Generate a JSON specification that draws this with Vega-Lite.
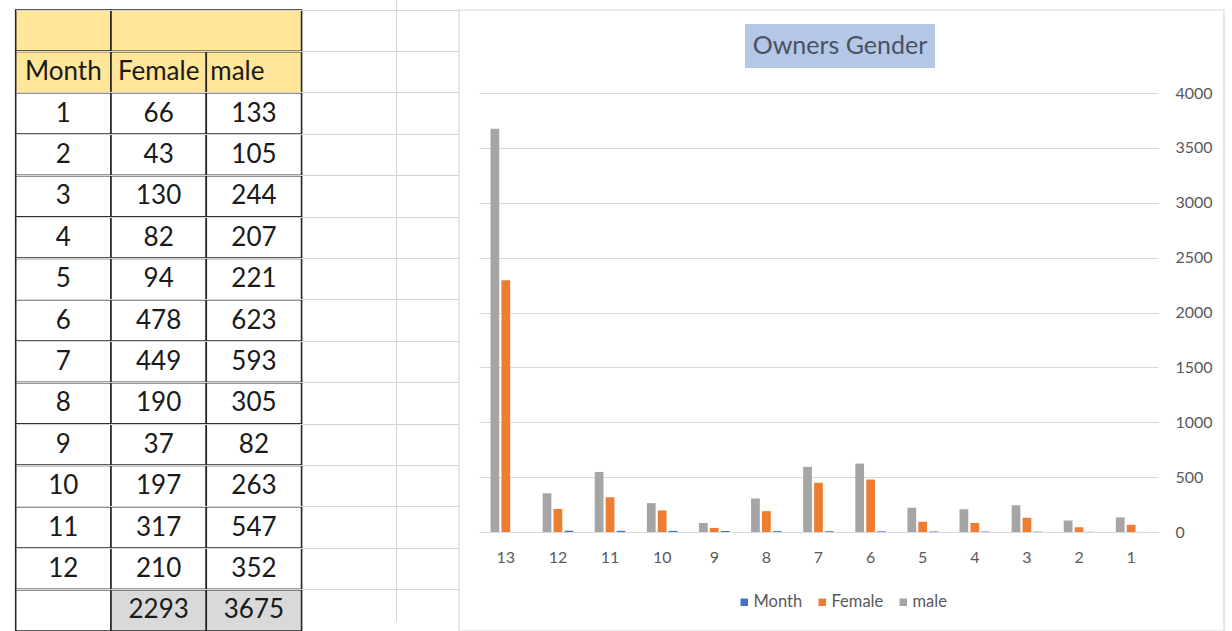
{
  "$schema": "https://vega.github.io/schema/vega-lite/v6.json",
  "padding": 0,
  "spacing": 0,
  "bounds": "flush",
  "background": "white",
  "config": {"view": {"stroke": null}, "font": "Lato"},
  "datasets": {
    "cells": [
      {"row": "h0", "col": "Month", "kind": "header", "text": ""},
      {"row": "h0", "col": "Female", "col2": "male", "kind": "header", "text": ""},
      {"row": "h1", "col": "Month", "kind": "header", "text": "Month"},
      {"row": "h1", "col": "Female", "kind": "header", "text": "Female"},
      {"row": "h1", "col": "male", "kind": "header", "text": "male"},
      {"row": "1", "col": "Month", "kind": "body", "text": "1"},
      {"row": "1", "col": "Female", "kind": "body", "text": "66"},
      {"row": "1", "col": "male", "kind": "body", "text": "133"},
      {"row": "2", "col": "Month", "kind": "body", "text": "2"},
      {"row": "2", "col": "Female", "kind": "body", "text": "43"},
      {"row": "2", "col": "male", "kind": "body", "text": "105"},
      {"row": "3", "col": "Month", "kind": "body", "text": "3"},
      {"row": "3", "col": "Female", "kind": "body", "text": "130"},
      {"row": "3", "col": "male", "kind": "body", "text": "244"},
      {"row": "4", "col": "Month", "kind": "body", "text": "4"},
      {"row": "4", "col": "Female", "kind": "body", "text": "82"},
      {"row": "4", "col": "male", "kind": "body", "text": "207"},
      {"row": "5", "col": "Month", "kind": "body", "text": "5"},
      {"row": "5", "col": "Female", "kind": "body", "text": "94"},
      {"row": "5", "col": "male", "kind": "body", "text": "221"},
      {"row": "6", "col": "Month", "kind": "body", "text": "6"},
      {"row": "6", "col": "Female", "kind": "body", "text": "478"},
      {"row": "6", "col": "male", "kind": "body", "text": "623"},
      {"row": "7", "col": "Month", "kind": "body", "text": "7"},
      {"row": "7", "col": "Female", "kind": "body", "text": "449"},
      {"row": "7", "col": "male", "kind": "body", "text": "593"},
      {"row": "8", "col": "Month", "kind": "body", "text": "8"},
      {"row": "8", "col": "Female", "kind": "body", "text": "190"},
      {"row": "8", "col": "male", "kind": "body", "text": "305"},
      {"row": "9", "col": "Month", "kind": "body", "text": "9"},
      {"row": "9", "col": "Female", "kind": "body", "text": "37"},
      {"row": "9", "col": "male", "kind": "body", "text": "82"},
      {"row": "10", "col": "Month", "kind": "body", "text": "10"},
      {"row": "10", "col": "Female", "kind": "body", "text": "197"},
      {"row": "10", "col": "male", "kind": "body", "text": "263"},
      {"row": "11", "col": "Month", "kind": "body", "text": "11"},
      {"row": "11", "col": "Female", "kind": "body", "text": "317"},
      {"row": "11", "col": "male", "kind": "body", "text": "547"},
      {"row": "12", "col": "Month", "kind": "body", "text": "12"},
      {"row": "12", "col": "Female", "kind": "body", "text": "210"},
      {"row": "12", "col": "male", "kind": "body", "text": "352"},
      {"row": "T", "col": "Month", "kind": "body", "text": ""},
      {"row": "T", "col": "Female", "kind": "total", "text": "2293"},
      {"row": "T", "col": "male", "kind": "total", "text": "3675"}
    ],
    "bars": [
      {"cat": "1", "series": "male", "value": 133}, {"cat": "1", "series": "Female", "value": 66}, {"cat": "1", "series": "Month", "value": 1},
      {"cat": "2", "series": "male", "value": 105}, {"cat": "2", "series": "Female", "value": 43}, {"cat": "2", "series": "Month", "value": 2},
      {"cat": "3", "series": "male", "value": 244}, {"cat": "3", "series": "Female", "value": 130}, {"cat": "3", "series": "Month", "value": 3},
      {"cat": "4", "series": "male", "value": 207}, {"cat": "4", "series": "Female", "value": 82}, {"cat": "4", "series": "Month", "value": 4},
      {"cat": "5", "series": "male", "value": 221}, {"cat": "5", "series": "Female", "value": 94}, {"cat": "5", "series": "Month", "value": 5},
      {"cat": "6", "series": "male", "value": 623}, {"cat": "6", "series": "Female", "value": 478}, {"cat": "6", "series": "Month", "value": 6},
      {"cat": "7", "series": "male", "value": 593}, {"cat": "7", "series": "Female", "value": 449}, {"cat": "7", "series": "Month", "value": 7},
      {"cat": "8", "series": "male", "value": 305}, {"cat": "8", "series": "Female", "value": 190}, {"cat": "8", "series": "Month", "value": 8},
      {"cat": "9", "series": "male", "value": 82}, {"cat": "9", "series": "Female", "value": 37}, {"cat": "9", "series": "Month", "value": 9},
      {"cat": "10", "series": "male", "value": 263}, {"cat": "10", "series": "Female", "value": 197}, {"cat": "10", "series": "Month", "value": 10},
      {"cat": "11", "series": "male", "value": 547}, {"cat": "11", "series": "Female", "value": 317}, {"cat": "11", "series": "Month", "value": 11},
      {"cat": "12", "series": "male", "value": 352}, {"cat": "12", "series": "Female", "value": 210}, {"cat": "12", "series": "Month", "value": 12},
      {"cat": "13", "series": "male", "value": 3675}, {"cat": "13", "series": "Female", "value": 2293}
    ],
    "chart": [{"part": "Owners Gender"}]
  },
  "hconcat": [
    {
      "width": 459,
      "height": 631,
      "data": {"name": "cells"},
      "encoding": {
        "x": {"field": "col", "type": "nominal",
          "scale": {"domain": ["Month", "Female", "male", "E"], "range": [15.7, 459], "paddingInner": 0, "paddingOuter": 0.326, "align": 0},
          "axis": {"orient": "bottom", "grid": true, "bandPosition": 1, "values": ["E"], "labels": false, "ticks": false, "domain": false, "title": null, "gridColor": "#d4d4d4", "gridWidth": 1}},
        "y": {"field": "row", "type": "nominal",
          "scale": {"domain": ["h0", "h1", "1", "2", "3", "4", "5", "6", "7", "8", "9", "10", "11", "12", "T"], "range": [10, 631], "paddingInner": 0, "paddingOuter": -0.0486, "align": 0},
          "axis": {"orient": "left", "grid": true, "bandPosition": 0, "labels": false, "ticks": false, "domain": false, "title": null, "gridColor": "#d4d4d4", "gridWidth": 1}}
      },
      "layer": [
        {
          "transform": [{"filter": "!datum.col2"}],
          "mark": {"type": "rect", "stroke": "#262626", "strokeWidth": 1.6, "clip": true},
          "encoding": {
            "fill": {"field": "kind", "type": "nominal", "scale": {"domain": ["header", "body", "total"], "range": ["#ffe699", "#ffffff", "#d9d9d9"]}, "legend": null}
          }
        },
        {
          "transform": [{"filter": "datum.col2"}],
          "mark": {"type": "rect", "stroke": "#262626", "strokeWidth": 1.6, "clip": true},
          "encoding": {
            "x": {"field": "col", "type": "nominal", "bandPosition": 0},
            "x2": {"field": "col2", "bandPosition": 1},
            "fill": {"field": "kind", "type": "nominal", "scale": {"domain": ["header", "body", "total"], "range": ["#ffe699", "#ffffff", "#d9d9d9"]}, "legend": null}
          }
        },
        {
          "transform": [{"filter": "datum.text !== '' && !(datum.row === 'h1' && datum.col === 'male')"}],
          "mark": {"type": "text", "fontSize": 26, "font": "Lato", "color": "#1a1a1a", "baseline": "middle", "align": "center", "clip": true},
          "encoding": {"text": {"field": "text"}}
        },
        {
          "transform": [{"filter": "datum.row === 'h1' && datum.col === 'male'"}],
          "mark": {"type": "text", "fontSize": 26, "font": "Lato", "color": "#1a1a1a", "baseline": "middle", "align": "left", "dx": 4},
          "encoding": {
            "x": {"field": "col", "type": "nominal", "bandPosition": 0},
            "text": {"field": "text"}
          }
        }
      ]
    },
    {
      "width": 719,
      "height": 532,
      "resolve": {"scale": {"x": "independent", "y": "independent"}, "axis": {"x": "independent", "y": "independent"}},
      "layer": [
        {
          "data": {"name": "chart"},
          "mark": {"type": "rect", "filled": false, "stroke": "#d9d9d9", "strokeWidth": 1.2},
          "encoding": {
            "x": {"field": "part", "type": "nominal", "scale": {"range": [0, 765], "paddingInner": 0, "paddingOuter": 0}, "axis": null},
            "y": {"field": "part", "type": "nominal", "scale": {"range": [10, 631], "paddingInner": 0, "paddingOuter": 0}, "axis": null}
          }
        },
        {
          "data": {"name": "bars"},
          "mark": {"type": "bar"},
          "encoding": {
            "x": {"field": "cat", "type": "nominal",
              "scale": {"domain": ["13", "12", "11", "10", "9", "8", "7", "6", "5", "4", "3", "2", "1"], "range": [20, 699], "paddingInner": 0.37, "paddingOuter": 0.2},
              "axis": {"orient": "bottom", "title": null, "labelAngle": 0, "ticks": false, "tickSize": 0, "labelPadding": 17, "domainColor": "#d9d9d9", "labelColor": "#595959", "labelFontSize": 16, "labelFont": "Lato", "grid": false}},
            "xOffset": {"field": "series", "type": "nominal", "scale": {"domain": ["male", "Female", "Month"], "paddingInner": 0.2, "paddingOuter": 0.1}},
            "y": {"field": "value", "type": "quantitative",
              "scale": {"domain": [0, 4000], "range": [532, 93], "nice": false, "zero": true},
              "axis": {"orient": "right", "offset": -20, "values": [0, 500, 1000, 1500, 2000, 2500, 3000, 3500, 4000], "format": "d", "title": null, "domain": false, "ticks": false, "tickSize": 0, "labelPadding": 17, "grid": true, "gridColor": "#d9d9d9", "labelColor": "#595959", "labelFontSize": 16, "labelFont": "Lato"}},
            "color": {"field": "series", "type": "nominal",
              "scale": {"domain": ["Month", "Female", "male"], "range": ["#4472c4", "#ed7d31", "#a5a5a5"]},
              "legend": {"orient": "none", "legendX": 736, "legendY": 594, "direction": "horizontal", "title": null, "symbolType": "square", "symbolSize": 56, "symbolStrokeWidth": 0, "labelFontSize": 16.5, "labelFont": "Lato", "labelColor": "#595959", "columnPadding": 11, "labelOffset": 1, "gridAlign": "none"}}
          }
        },
        {
          "data": {"name": "chart"},
          "encoding": {
            "x": {"field": "part", "type": "nominal", "scale": {"range": [286, 476], "paddingInner": 0, "paddingOuter": 0}, "axis": null},
            "y": {"field": "part", "type": "nominal", "scale": {"range": [24, 68], "paddingInner": 0, "paddingOuter": 0}, "axis": null}
          },
          "layer": [
            {"mark": {"type": "rect", "fill": "#b4c7e7"}},
            {"mark": {"type": "text", "fontSize": 25, "font": "Lato", "color": "#4a5160", "baseline": "middle", "align": "center"}, "encoding": {"text": {"field": "part"}}}
          ]
        }
      ]
    }
  ]
}
